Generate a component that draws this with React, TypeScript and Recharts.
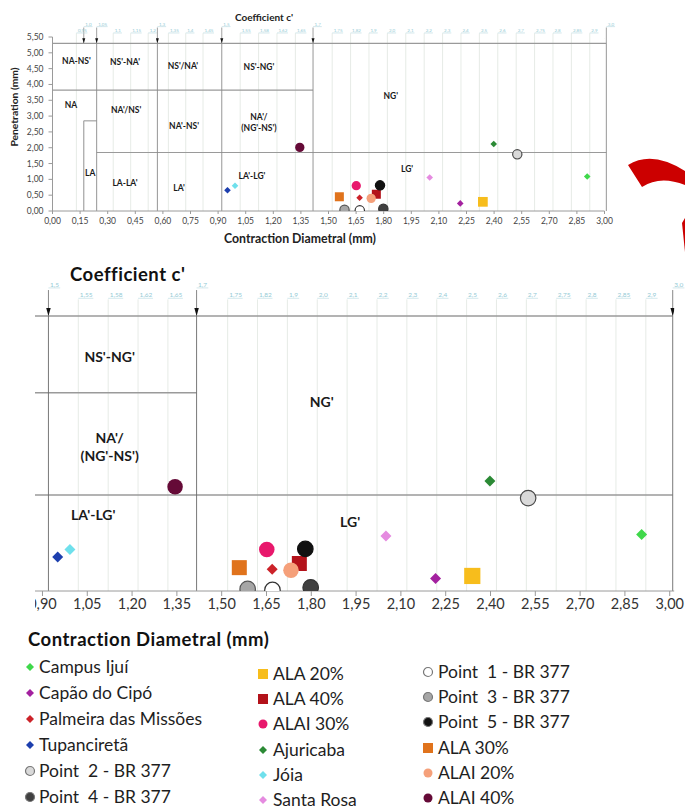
import React from 'react';
import { ScatterChart, Scatter, XAxis, YAxis, ReferenceLine, ReferenceDot } from 'recharts';

const FONT = 'Lato, "Open Sans", sans-serif';

// ---- measured points (contraction diametral mm, penetration mm) ----
const campusIjui = [{ x: 2.906, y: 1.09 }];
const capaoDoCipo = [{ x: 2.216, y: 0.24 }];
const palmeira = [{ x: 1.669, y: 0.42 }];
const tupancireta = [{ x: 0.951, y: 0.655 }];
const point2 = [{ x: 2.526, y: 1.79 }];
const point4 = [{ x: 1.798, y: 0.07 }];
const ala20 = [{ x: 2.339, y: 0.29 }];
const ala40 = [{ x: 1.76, y: 0.53 }];
const alai30 = [{ x: 1.651, y: 0.8 }];
const ajuricaba = [{ x: 2.398, y: 2.12 }];
const joia = [{ x: 0.992, y: 0.8 }];
const santaRosa = [{ x: 2.05, y: 1.06 }];
const point1 = [{ x: 1.67, y: 0.02 }];
const point3 = [{ x: 1.587, y: 0.04 }];
const point5 = [{ x: 1.78, y: 0.81 }];
const ala30 = [{ x: 1.559, y: 0.45 }];
const alai20 = [{ x: 1.732, y: 0.4 }];
const alai40 = [{ x: 1.344, y: 2.01 }];

// ---- axes ----
const xTicksTop = [0, 0.15, 0.3, 0.45, 0.6, 0.75, 0.9, 1.05, 1.2, 1.35, 1.5, 1.65, 1.8, 1.95, 2.1, 2.25, 2.4, 2.55, 2.7, 2.85, 3.0];
const yTicksTop = [0, 0.5, 1, 1.5, 2, 2.5, 3, 3.5, 4, 4.5, 5, 5.5];
const xTicksBottom = [0.9, 1.05, 1.2, 1.35, 1.5, 1.65, 1.8, 1.95, 2.1, 2.25, 2.4, 2.55, 2.7, 2.85, 3.0];

// ---- coefficient c' scale (top) ----
const majorLines = [0.17, 0.24, 0.57, 0.92, 1.416, 3.01];
const majorCoef = ['1,0', '1,05', '1,3', '1,5', '1,7', '3,0'];
const minorLines = [0.13, 0.33, 0.425, 0.52, 0.63, 0.724, 0.818, 1.02, 1.12, 1.22, 1.32, 1.52, 1.62, 1.72, 1.82, 1.92, 2.02, 2.12, 2.22, 2.32, 2.42, 2.52, 2.62, 2.72, 2.82, 2.92];
const minorCoef = ['0,95', '1,1', '1,15', '1,2', '1,35', '1,4', '1,45', '1,55', '1,58', '1,62', '1,65', '1,75', '1,82', '1,9', '2,0', '2,1', '2,2', '2,3', '2,4', '2,5', '2,6', '2,7', '2,75', '2,8', '2,85', '2,9'];

// ---- class boundaries ----
const hBounds = [
  { y: 5.3, x1: 0, x2: 3.01 },
  { y: 3.82, x1: 0, x2: 1.416 },
  { y: 1.85, x1: 0.24, x2: 3.01 },
  { y: 2.85, x1: 0.17, x2: 0.24 },
];
const vBounds = [
  { x: 0.17, y1: 0, y2: 2.85 },
  { x: 0.24, y1: 0, y2: 5.3 },
  { x: 0.57, y1: 0, y2: 5.3 },
  { x: 0.92, y1: 0, y2: 5.3 },
  { x: 1.416, y1: 0, y2: 5.3 },
  { x: 3.01, y1: 0, y2: 5.3 },
];

const topLabels = [
  { x: 0.13, y: 4.75, text: "NA-NS'" },
  { x: 0.394, y: 4.7, text: "NS'-NA'" },
  { x: 0.709, y: 4.57, text: "NS'/NA'" },
  { x: 1.122, y: 4.55, text: "NS'-NG'" },
  { x: 0.1, y: 3.35, text: 'NA' },
  { x: 0.4, y: 3.2, text: "NA'/NS'" },
  { x: 0.715, y: 2.69, text: "NA'-NS'" },
  { x: 1.122, y: 2.97, text: "NA'/" },
  { x: 1.122, y: 2.62, text: "(NG'-NS')" },
  { x: 0.205, y: 1.2, text: 'LA' },
  { x: 0.394, y: 0.89, text: "LA-LA'" },
  { x: 0.688, y: 0.73, text: "LA'" },
  { x: 1.084, y: 1.11, text: "LA'-LG'" },
  { x: 1.838, y: 3.65, text: "NG'" },
  { x: 1.927, y: 1.33, text: "LG'" },
];
const bottomLabels = [
  { x: 1.125, y: 4.51, text: "NS'-NG'" },
  { x: 1.125, y: 2.95, text: "NA'/" },
  { x: 1.125, y: 2.62, text: "(NG'-NS')" },
  { x: 1.835, y: 3.65, text: "NG'" },
  { x: 1.07, y: 1.48, text: "LA'-LG'" },
  { x: 1.93, y: 1.33, text: "LG'" },
];

type Kind = 'circle' | 'square' | 'diamond';
interface Series { name: string; data: { x: number; y: number }[]; kind: Kind; fill: string; stroke?: string; big?: number }

const series: Series[] = [
  { name: 'Campus Ijuí', data: campusIjui, kind: 'diamond', fill: '#3fd84a' },
  { name: 'Capão do Cipó', data: capaoDoCipo, kind: 'diamond', fill: '#a3219f' },
  { name: 'Palmeira das Missões', data: palmeira, kind: 'diamond', fill: '#cc2229' },
  { name: 'Tupanciretã', data: tupancireta, kind: 'diamond', fill: '#1d3fae' },
  { name: 'Point  2 - BR 377', data: point2, kind: 'circle', fill: '#d9d9d9', stroke: '#4a4a4a' },
  { name: 'Point  4 - BR 377', data: point4, kind: 'circle', fill: '#404040', stroke: '#333' },
  { name: 'ALA 20%', data: ala20, kind: 'square', fill: '#f7bd1c', big: 1.08 },
  { name: 'ALA 40%', data: ala40, kind: 'square', fill: '#b3121a' },
  { name: 'ALAI 30%', data: alai30, kind: 'circle', fill: '#e8186c' },
  { name: 'Ajuricaba', data: ajuricaba, kind: 'diamond', fill: '#2b8a35' },
  { name: 'Jóia', data: joia, kind: 'diamond', fill: '#6fe0ec' },
  { name: 'Santa Rosa', data: santaRosa, kind: 'diamond', fill: '#e58be0' },
  { name: 'Point  1 - BR 377', data: point1, kind: 'circle', fill: '#ffffff', stroke: '#333' },
  { name: 'Point  3 - BR 377', data: point3, kind: 'circle', fill: '#a6a6a6', stroke: '#555' },
  { name: 'Point  5 - BR 377', data: point5, kind: 'circle', fill: '#111111', stroke: '#111' },
  { name: 'ALA 30%', data: ala30, kind: 'square', fill: '#e0731c' },
  { name: 'ALAI 20%', data: alai20, kind: 'circle', fill: '#f5a07a' },
  { name: 'ALAI 40%', data: alai40, kind: 'circle', fill: '#650a37' },
];

const legendCols = [
  ['Campus Ijuí', 'Capão do Cipó', 'Palmeira das Missões', 'Tupanciretã', 'Point  2 - BR 377', 'Point  4 - BR 377'],
  ['ALA 20%', 'ALA 40%', 'ALAI 30%', 'Ajuricaba', 'Jóia', 'Santa Rosa'],
  ['Point  1 - BR 377', 'Point  3 - BR 377', 'Point  5 - BR 377', 'ALA 30%', 'ALAI 20%', 'ALAI 40%'],
];

const fmt2 = (v: number) => v.toFixed(2).replace('.', ',');

function Marker({ cx, cy, kind, fill, stroke, size }: { cx: number; cy: number; kind: Kind; fill: string; stroke?: string; size: number }) {
  if (kind === 'circle') {
    return <circle cx={cx} cy={cy} r={size / 2} fill={fill} stroke={stroke || 'none'} strokeWidth={stroke ? 1.2 : 0} />;
  }
  if (kind === 'square') {
    return <rect x={cx - size / 2} y={cy - size / 2} width={size} height={size} fill={fill} />;
  }
  const h = size / 2;
  return <path d={`M${cx},${cy - h} L${cx + h},${cy} L${cx},${cy + h} L${cx - h},${cy} Z`} fill={fill} />;
}

const sizeFor = (s: Series, k: number) => (s.kind === 'diamond' ? 11 : s.kind === 'square' ? 15 : 15.5) * k * (s.big || 1);

function coefLabel(t: string, size: number) {
  return (p: any) => {
    const w = t.length * size * 0.5;
    return (
      <g>
        <line x1={p.cx} y1={p.cy + 1} x2={p.cx + w + 2} y2={p.cy + 1} stroke="#b5d8df" strokeWidth={0.6} />
        <text x={p.cx + 1.5} y={p.cy} fontSize={size} fill="#94cad5">{t}</text>
      </g>
    );
  };
}

function background(xMin: number, lineW: number, coefSize: number, dark: string) {
  const out: React.ReactNode[] = [];
  minorLines.forEach((x, i) => {
    if (x <= xMin) return;
    out.push(
      <ReferenceLine key={'g' + x} ifOverflow="visible" stroke="#dfe6df" strokeWidth={0.8}
        segment={[{ x, y: 0 }, { x, y: 5.62 }]} />,
      <ReferenceDot key={'gl' + x} x={x} y={5.66} r={1} ifOverflow="visible" shape={coefLabel(minorCoef[i], coefSize)} />,
    );
  });
  majorLines.forEach((x, i) => {
    if (x <= xMin) return;
    out.push(
      <ReferenceLine key={'m' + x} ifOverflow="visible" stroke={dark} strokeWidth={0.8}
        segment={[{ x, y: 5.3 }, { x, y: 5.8 }]} />,
      <ReferenceDot key={'ml' + x} x={x} y={5.86} r={1} ifOverflow="visible" shape={coefLabel(majorCoef[i], coefSize)} />,
    );
  });
  hBounds.forEach((b, i) => {
    const x1 = Math.max(b.x1, xMin);
    if (b.x2 <= xMin) return;
    out.push(
      <ReferenceLine key={'h' + i} ifOverflow="visible" stroke="#9a9a9a" strokeWidth={lineW}
        segment={[{ x: x1, y: b.y }, { x: b.x2, y: b.y }]} />,
    );
  });
  vBounds.forEach((b, i) => {
    if (b.x <= xMin) return;
    const light = b.x === 0.17;
    out.push(
      <ReferenceLine key={'v' + i} ifOverflow="visible" stroke={light ? '#9a9a9a' : dark} strokeWidth={light ? lineW : 0.9}
        segment={[{ x: b.x, y: b.y1 }, { x: b.x, y: b.y2 }]} />,
    );
  });
  return out;
}

function regionLabel(size: number) {
  return (p: any) => (
    <text x={p.cx} y={p.cy} textAnchor="middle" dominantBaseline="central" fontSize={size} fontWeight="bold" fill="#1a1a1a">
      {p.payload.text}
    </text>
  );
}

function arrowShape(w: number, h: number) {
  return (p: any) => (
    <path d={`M${p.cx - w / 2},${p.cy - h} L${p.cx + w / 2},${p.cy - h} L${p.cx},${p.cy} Z`} fill="#111" />
  );
}

function overlays(xMin: number, k: number, arrowW: number, arrowH: number, labels: typeof topLabels, labelSize: number) {
  const arrowData = majorLines.filter(x => x > xMin).map(x => ({ x, y: 5.3 }));
  return [
    <Scatter key="arrows" data={arrowData} isAnimationActive={false} shape={arrowShape(arrowW, arrowH)} />,
    <Scatter key="labels" data={labels} isAnimationActive={false} shape={regionLabel(labelSize)} />,
    ...series.map(s => (
      <Scatter key={s.name} name={s.name} data={s.data} isAnimationActive={false}
        shape={(p: any) => <Marker cx={p.cx} cy={p.cy} kind={s.kind} fill={s.fill} stroke={s.stroke} size={sizeFor(s, k)} />} />
    )),
  ];
}

function LegendBlock() {
  const colX = [[30, 39], [263, 273], [428, 438]];
  const colY = [667, 674, 672];
  const colStep = [26, 25.2, 25.2];
  return (
    <>
      {legendCols.map((col, ci) =>
        col.map((name, ri) => {
          const s = series.find(q => q.name === name)!;
          const y = colY[ci] + ri * colStep[ci];
          const ms = s.kind === 'diamond' ? 8 : s.kind === 'square' ? 10 : 9;
          return (
            <div key={name} style={{ position: 'absolute', left: colX[ci][0] - 6, top: y - 9, height: 18, display: 'flex', alignItems: 'center' }}>
              <svg width={12} height={12} style={{ marginRight: colX[ci][1] - colX[ci][0] - 6 }}>
                <Marker cx={6} cy={6} kind={s.kind} fill={s.fill} stroke={s.stroke ? '#777' : undefined} size={ms} />
              </svg>
              <span style={{ fontSize: 17.5, color: '#1e1e1e', whiteSpace: 'pre', lineHeight: '18px' }}>{name}</span>
            </div>
          );
        }),
      )}
    </>
  );
}

export default function App() {
  const topXMin = -1;
  const botXMin = 0.875;
  return (
    <div style={{ position: 'relative', width: 685, height: 807, fontFamily: FONT, background: '#fff', overflow: 'hidden' }}>
      <style>{'body{margin:0}'}</style>

      {/* overview chart */}
      <div style={{ position: 'absolute', left: 0, top: 0 }}>
        <ScatterChart width={620} height={250} margin={{ top: 37, right: 15.5, bottom: 0, left: 0 }}>
          <XAxis type="number" dataKey="x" domain={[0, 3]} ticks={xTicksTop} interval={0} allowDataOverflow
            tickFormatter={fmt2} height={39} tickSize={3} tickMargin={4} stroke="#9a9a9a"
            tick={{ fontSize: 8.5, fill: '#444' }} />
          <YAxis type="number" dataKey="y" domain={[0, 5.5]} ticks={yTicksTop} interval={0} allowDataOverflow
            tickFormatter={fmt2} width={52.5} tickSize={4} tickMargin={5} stroke="#9a9a9a"
            tick={{ fontSize: 8.5, fill: '#444' }} />
          {background(topXMin, 1.1, 4.5, '#8a8a8a')}
          {overlays(topXMin, 0.6, 3, 5, topLabels, 8.5)}
        </ScatterChart>
      </div>
      <div style={{ position: 'absolute', left: 235, top: 11, fontSize: 10, fontWeight: 'bold', color: '#222' }}>Coefficient c'</div>
      <div style={{ position: 'absolute', left: 14 - 60, top: 108 - 7, width: 120, textAlign: 'center', fontSize: 10.3, fontWeight: 'bold', color: '#222', transform: 'rotate(-90deg)' }}>Penetration (mm)</div>
      <div style={{ position: 'absolute', left: 200, top: 231, width: 200, textAlign: 'center', fontSize: 12.3, fontWeight: 'bold', color: '#222' }}>Contraction Diametral (mm)</div>

      {/* zoomed chart */}
      <div style={{ position: 'absolute', left: 35, top: 255, width: 650, height: 366, overflow: 'hidden' }}>
        <div style={{ position: 'absolute', left: -35, top: 0 }}>
          <ScatterChart width={685} height={366} margin={{ top: 50.6, right: 10.8, bottom: 0, left: 35 }}>
            <XAxis type="number" dataKey="x" domain={[botXMin, 3.015]} ticks={xTicksBottom} interval={0} allowDataOverflow
              tickFormatter={fmt2} height={30} tickSize={5} tickMargin={3} stroke="#9a9a9a"
              tick={{ fontSize: 14.5, fill: '#333' }} />
            <YAxis type="number" dataKey="y" domain={[0, 5.5]} hide allowDataOverflow />
            {background(botXMin, 1.5, 6.5, '#6a6a6a')}
            {overlays(botXMin, 1, 4.5, 8, bottomLabels, 14)}
          </ScatterChart>
        </div>
      </div>
      <div style={{ position: 'absolute', left: 70, top: 263, fontSize: 18.5, letterSpacing: 0.5, fontWeight: 'bold', color: '#111' }}>Coefficient c'</div>
      <div style={{ position: 'absolute', left: 28, top: 628, fontSize: 18.5, letterSpacing: 0.5, fontWeight: 'bold', color: '#111' }}>Contraction Diametral (mm)</div>

      <LegendBlock />

      <svg style={{ position: 'absolute', left: 600, top: 140 }} width={85} height={140}>
        <path d="M28,25 Q52,10 85,31 L85,45 Q60,35 42,47 Z" fill="#cc0000" />
        <path d="M82,83 L85,78 L85,112 Z" fill="#cc0000" />
      </svg>
    </div>
  );
}
